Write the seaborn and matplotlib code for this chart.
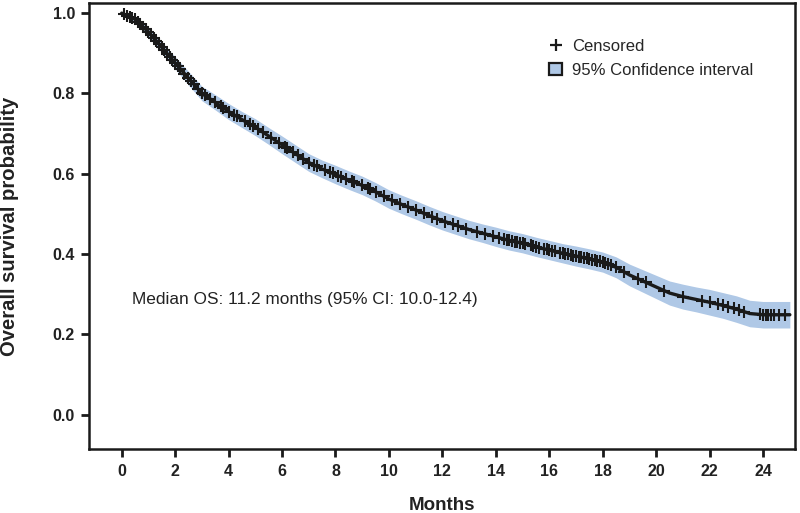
import numpy as np
import pandas as pd
import matplotlib
matplotlib.use("Agg")
import matplotlib.pyplot as plt
from matplotlib.lines import Line2D
from matplotlib.patches import Patch
import seaborn as sns

# survival estimate, every half month
months = [0, 0.5, 1, 1.5, 2, 2.5, 3, 3.5, 4, 4.5, 5, 5.5, 6, 6.5, 7, 7.5, 8, 8.5,
          9, 9.5, 10, 10.5, 11, 11.5, 12, 12.5, 13, 13.5, 14, 14.5, 15, 15.5,
          16, 16.5, 17, 17.5, 18, 18.5, 19, 19.5, 20, 20.5, 21, 21.5, 22, 22.5,
          23, 23.5, 24, 24.5, 25]
surv = [1.000, 0.985, 0.953, 0.915, 0.876, 0.838, 0.800, 0.778, 0.755, 0.735,
        0.716, 0.694, 0.672, 0.650, 0.628, 0.612, 0.598, 0.584, 0.571, 0.555,
        0.537, 0.523, 0.510, 0.496, 0.483, 0.472, 0.461, 0.452, 0.443, 0.434,
        0.427, 0.418, 0.410, 0.402, 0.395, 0.388, 0.380, 0.367, 0.348, 0.333,
        0.318, 0.303, 0.294, 0.287, 0.280, 0.272, 0.263, 0.252, 0.249, 0.249, 0.249]
ci_half = [0.000, 0.006, 0.010, 0.013, 0.015, 0.017, 0.018, 0.019, 0.020, 0.020,
           0.021, 0.021, 0.022, 0.022, 0.022, 0.022, 0.023, 0.023, 0.023, 0.023,
           0.023, 0.023, 0.023, 0.023, 0.023, 0.023, 0.023, 0.023, 0.024, 0.024,
           0.024, 0.024, 0.024, 0.024, 0.025, 0.025, 0.025, 0.026, 0.027, 0.028,
           0.029, 0.030, 0.031, 0.031, 0.032, 0.032, 0.033, 0.033, 0.033, 0.033, 0.033]

# censoring times (months)
censor_t = [0.1, 0.2, 0.3, 0.4, 0.5, 0.6, 0.7, 0.8, 0.9, 1.0, 1.1, 1.2, 1.3,
            1.4, 1.5, 1.6, 1.7, 1.8, 1.9, 2.0, 2.1, 2.2, 2.35, 2.5, 2.6, 2.7,
            2.85, 3.0, 3.1, 3.3, 3.5, 3.7, 3.8, 4.0, 4.2, 4.3, 4.6, 4.8, 4.9,
            5.1, 5.3, 5.6, 5.9, 6.1, 6.2, 6.4, 6.6, 6.8, 7.0, 7.2, 7.3, 7.6,
            7.8, 7.9, 8.1, 8.2, 8.4, 8.6, 8.7, 9.0, 9.2, 9.3, 9.5, 9.8, 10.1,
            10.4, 10.7, 11.0, 11.3, 11.6, 11.8, 12.1, 12.4, 12.6, 12.9, 13.3,
            13.6, 13.9, 14.1, 14.3, 14.4, 14.5, 14.6, 14.7, 14.8, 14.9, 15.0,
            15.1, 15.3, 15.4, 15.5, 15.6, 15.8, 15.9, 16.0, 16.1, 16.2, 16.4,
            16.5, 16.6, 16.7, 16.8, 16.9, 17.0, 17.1, 17.2, 17.3, 17.4, 17.5,
            17.6, 17.7, 17.8, 17.9, 18.0, 18.1, 18.2, 18.3, 18.5, 18.8, 19.3,
            19.6, 20.3, 21.0, 21.7, 22.0, 22.3, 22.5, 22.7, 22.9, 23.1, 23.3,
            23.9, 24.0, 24.1, 24.2, 24.3, 24.4, 24.6, 24.8]

df = pd.DataFrame({"Months": months, "surv": surv, "ci": ci_half})
df["lo"] = df["surv"] - df["ci"]
df["hi"] = df["surv"] + df["ci"]
cens = pd.DataFrame({"Months": censor_t,
                     "surv": np.interp(censor_t, months, surv)})

sns.set_style("ticks")
plt.rcParams["font.family"] = ["Liberation Sans", "DejaVu Sans"]

band_col = "#afc8e6"
ink = "#1a1a1a"
txt = "#222222"

fig = plt.figure(figsize=(8, 5.13), dpi=100)
ax = fig.add_axes([0.111, 0.125, 0.883, 0.869])

ax.fill_between(df["Months"], df["lo"], df["hi"], color=band_col, lw=0)
sns.lineplot(data=df, x="Months", y="surv", color=ink, lw=2.4, ax=ax)
sns.scatterplot(data=cens, x="Months", y="surv", marker="+", s=80,
                color=ink, linewidth=1.5, ax=ax, zorder=3)

ax.set_xlim(-1.23, 25.2)
ax.set_ylim(-0.085, 1.025)
ax.set_xticks(range(0, 25, 2))
ax.set_yticks([0.0, 0.2, 0.4, 0.6, 0.8, 1.0])
ax.set_yticklabels(["0.0", "0.2", "0.4", "0.6", "0.8", "1.0"])
for lab in ax.get_xticklabels() + ax.get_yticklabels():
    lab.set_fontweight("bold")
    lab.set_fontsize(11.5)
    lab.set_color(txt)
ax.tick_params(axis="both", length=6, width=2, color=ink)
ax.tick_params(axis="x", pad=5)
ax.tick_params(axis="y", pad=4)
for sp in ax.spines.values():
    sp.set_linewidth(1.8)
    sp.set_color(ink)

ax.set_xlabel("Months", fontsize=13.5, fontweight="bold", color=txt)
ax.set_ylabel("Overall survival probability", fontsize=14.6, fontweight="bold",
              color=txt)
ax.xaxis.set_label_coords(0.5, -0.108)
ax.yaxis.set_label_coords(-0.099, 0.5)

ax.text(0.4, 0.288, "Median OS: 11.2 months (95% CI: 10.0-12.4)", fontsize=12.4,
        va="center", color=txt)

handles = [Line2D([], [], marker="+", ls="none", color=ink, markersize=9,
                  markeredgewidth=1.6),
           Patch(facecolor=band_col, edgecolor=ink, linewidth=1.6)]
ax.legend(handles, ["Censored", "95% Confidence interval"], loc="upper right",
          bbox_to_anchor=(0.9405, 0.92), frameon=False, fontsize=12,
          borderaxespad=0, borderpad=0, handlelength=0.75, handleheight=0.75,
          handletextpad=0.6, labelspacing=0.55)

fig.savefig("out.png", dpi=100)
